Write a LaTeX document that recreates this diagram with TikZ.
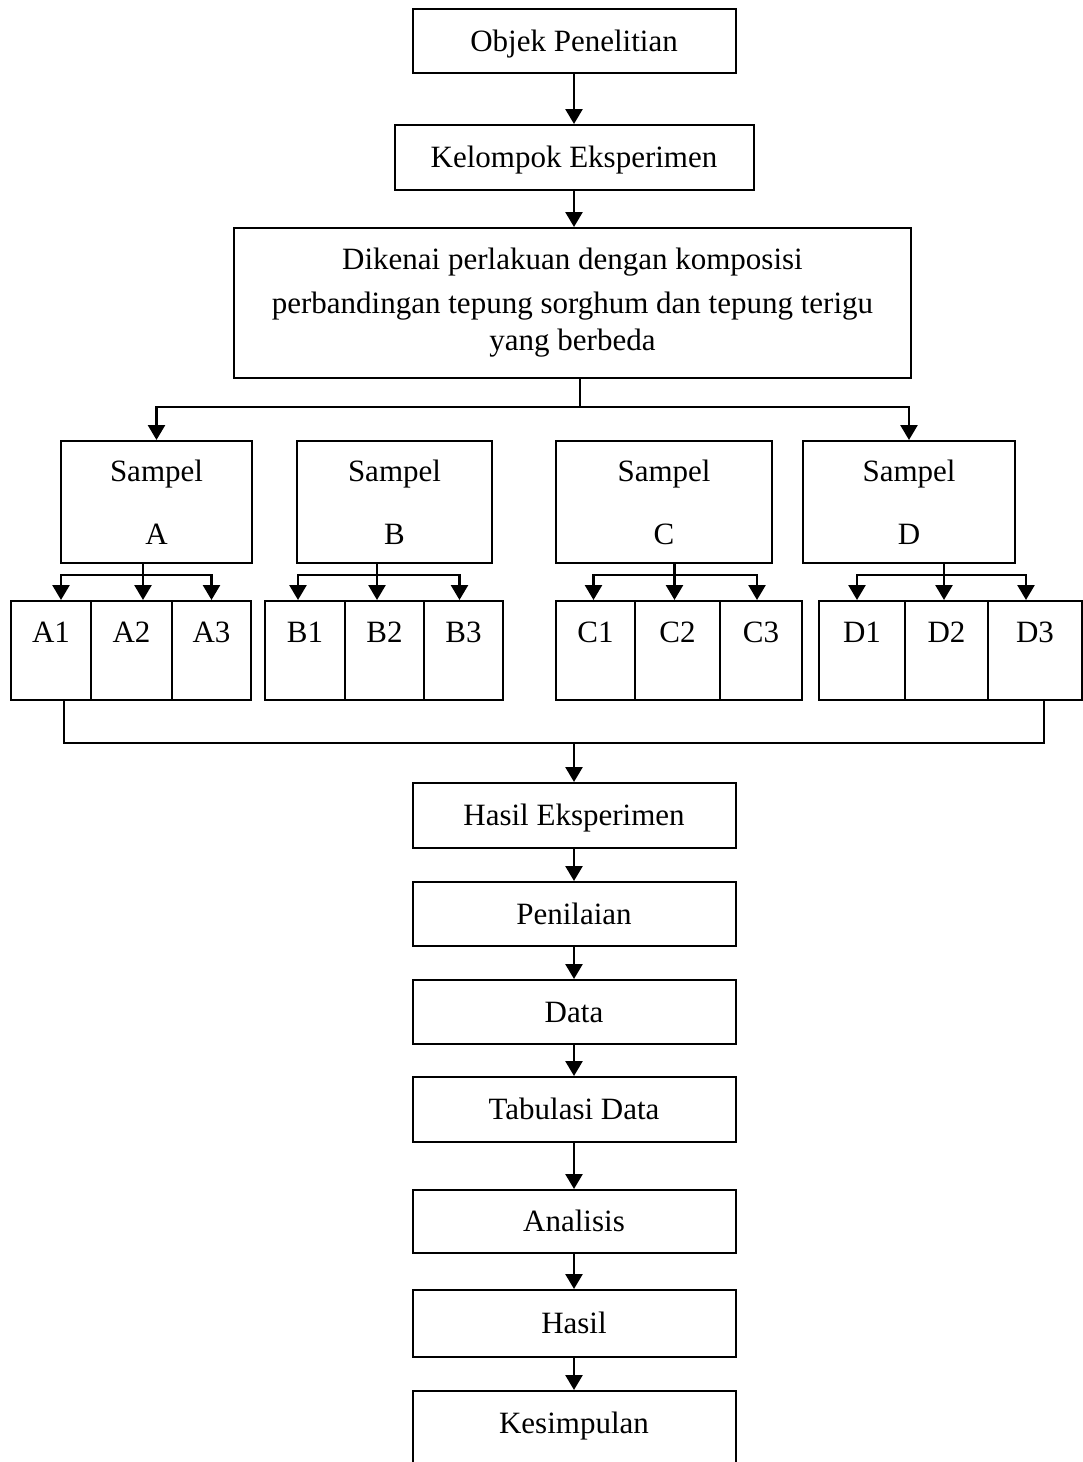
\documentclass[tikz,border=0pt]{standalone}
\usepackage{fontspec}
\setmainfont{Liberation Serif}
\usetikzlibrary{arrows.meta}
\tikzset{
  kotak/.style={draw=black, line width=2pt, inner sep=0pt, font=\fontsize{31}{38}\selectfont},
  utama/.style={kotak, text height=28pt, text depth=8pt, minimum width=323pt, minimum height=64pt},
  sampel/.style={kotak, align=center, minimum height=122pt},
  sub/.style={kotak, text height=22pt, text depth=39pt, minimum height=99pt},
  garis/.style={draw=black, line width=2.6pt},
  panah/.style={garis, -{Triangle[length=15pt,width=17pt]}},
}
\begin{document}
\begin{tikzpicture}[x=1pt,y=-1pt]
  \useasboundingbox (0,0) rectangle (1083,1462);

  \node[utama] (objek) at (574,41) {Objek Penelitian};
  \node[utama, minimum width=359pt, minimum height=65pt] (kelompok) at (574,157.5) {Kelompok Eksperimen};
  \node[kotak, align=center, minimum width=677pt, minimum height=150pt, font=\fontsize{31}{44}\selectfont] (dikenai) at (572.5,303)
    {Dikenai perlakuan dengan komposisi\\perbandingan tepung sorghum dan tepung terigu\\[-7pt]yang berbeda};

  % sampel
  \node[sampel, minimum width=191pt] (sA) at (156.5,502) {Sampel\\[25pt]A};
  \node[sampel, minimum width=195pt] (sB) at (394.5,502) {Sampel\\[25pt]B};
  \node[sampel, minimum width=216pt] (sC) at (664,502) {Sampel\\[25pt]C};
  \node[sampel, minimum width=212pt] (sD) at (909,502) {Sampel\\[25pt]D};

  % ulangan tiap sampel
  \foreach \n/\x/\w in {A1/51/80,A2/131.5/81,A3/211.5/79,
                        B1/305/80,B2/384.5/79,B3/463.5/79,
                        C1/595.5/79,C2/677.5/85,C3/761/82,
                        D1/862/86,D2/946.5/83,D3/1035/94}{
    \node[sub, minimum width=\w pt] (\n) at (\x,650.5) {\n};
  }

  \node[utama, minimum height=65pt] (hasileks) at (574,815.5) {Hasil Eksperimen};
  \node[utama] (penilaian) at (574,914) {Penilaian};
  \node[utama] (data) at (574,1012) {Data};
  \node[utama, minimum height=65pt] (tabulasi) at (574,1109.5) {Tabulasi Data};
  \node[utama, minimum height=63pt] (analisis) at (574,1221.5) {Analisis};
  \node[utama, minimum height=67pt] (hasil) at (574,1323.5) {Hasil};
  \node[utama, text height=22pt, text depth=38pt, minimum height=100pt] (kesimpulan) at (574,1441) {Kesimpulan};

  % alur
  \foreach \a/\b in {objek/kelompok,kelompok/dikenai,hasileks/penilaian,penilaian/data,
                     data/tabulasi,tabulasi/analisis,analisis/hasil,hasil/kesimpulan}{
    \draw[panah] (\a.south) -- (\a.south |- \b.north);
  }

  \coordinate (bagi) at (580,407);
  \draw[garis] (dikenai.south -| bagi) -- (bagi);
  \draw[panah] (bagi) -| (sA.north);
  \draw[panah] (bagi) -| (sD.north);

  % cabang ke ulangan (geser sedikit dari tengah kotak)
  \foreach \g/\p/\q/\r in {A/10/11.5/0,B/-7/-7.5/-4,C/-2/-3/-4,D/-5/-2.5/-9}{
    \draw[panah] ([xshift=\q pt, yshift=38pt]\g2.north) -- ([xshift=\q pt]\g2.north);
    \draw[panah] ([xshift=\q pt, yshift=25pt]\g2.north) -| ([xshift=\p pt]\g1.north);
    \draw[panah] ([xshift=\q pt, yshift=25pt]\g2.north) -| ([xshift=\r pt]\g3.north);
  }

  \coordinate (kumpul) at (574,743);
  \draw[garis] ([xshift=13pt]A1.south) |- (kumpul) -| ([xshift=9pt]D3.south);
  \draw[panah] (kumpul) -- (hasileks.north);
\end{tikzpicture}
\end{document}
